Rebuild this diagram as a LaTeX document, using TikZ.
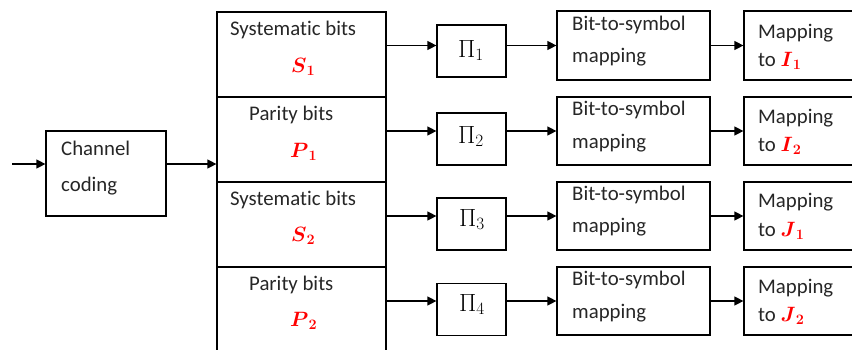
\documentclass[tikz,border=0pt]{standalone}
\usepackage{amsmath}
\usepackage[no-math]{fontspec}
\setmainfont{Carlito}[Ligatures={NoCommon}]
\usetikzlibrary{arrows.meta}
\tikzset{
  box/.style={draw=black, line width=1.2pt, inner sep=0pt},
  txt/.style={inner sep=0pt, anchor=base west, font=\fontsize{20.8}{24}\selectfont, text=black!85},
  mth/.style={inner sep=0pt, anchor=base west, font=\fontsize{20.8}{24}\selectfont, text=red},
  pitxt/.style={inner sep=0pt, anchor=base west, font=\fontsize{25}{28}\selectfont},
  conn/.style={line width=1.2pt, -{Triangle[length=9pt,width=9pt]}},
}
\newcommand{\rb}[2]{\ensuremath{\boldsymbol{#1}_{\mathbf{#2}}}}
\begin{document}
\begin{tikzpicture}[x=1pt,y=-1pt]
\useasboundingbox (0,0) rectangle (852,349);
\clip (0,0) rectangle (852,349);

% input
\coordinate (in) at (12,164);
\node[box, minimum width=120pt, minimum height=85pt] (cc) at (106,173.5) {};
\node[txt] (cct1) at (61,155) {Channel};
\node[txt] (cct2) at (61,191) {coding};

% stacked column
\node[box, minimum width=169pt, minimum height=85pt] (s1) at (301.5,54.5) {};
\node[box, minimum width=169pt, minimum height=85pt] (p1) at (301.5,139.5) {};
\node[box, minimum width=169pt, minimum height=85pt] (s2) at (301.5,224.5) {};
\node[box, minimum width=169pt, minimum height=85pt] (p2) at (301.5,309.5) {};

\node[txt] (s1t) at (230,35) {Systematic bits};
\node[mth] (s1m) at (291,72) {\rb{S}{1}};
\node[txt] (p1t) at (249,120.7) {Parity bits};
\node[mth] (p1m) at (290,157) {\rb{P}{1}};
\node[txt] (s2t) at (230,205.7) {Systematic bits};
\node[mth] (s2m) at (291,241.7) {\rb{S}{2}};
\node[txt] (p2t) at (249,290.7) {Parity bits};
\node[mth] (p2m) at (290,326.7) {\rb{P}{2}};

% interleavers
\node[box, minimum width=69pt, minimum height=52pt] (pi1) at (471.5,51) {};
\node[box, minimum width=69pt, minimum height=52pt] (pi2) at (471.5,139) {};
\node[box, minimum width=69pt, minimum height=52pt] (pi3) at (471.5,224) {};
\node[box, minimum width=69pt, minimum height=52pt] (pi4) at (471.5,309.5) {};
\node[pitxt] (pi1t) at (458,57) {$\Pi_1$};
\node[pitxt] (pi2t) at (458,143) {$\Pi_2$};
\node[pitxt] (pi3t) at (459,226) {$\Pi_3$};
\node[pitxt] (pi4t) at (459,311) {$\Pi_4$};

% bit-to-symbol
\node[box, minimum width=153pt, minimum height=69pt] (b1) at (633.5,45.5) {};
\node[box, minimum width=153pt, minimum height=68pt] (b2) at (633.5,131) {};
\node[box, minimum width=153pt, minimum height=68pt] (b3) at (633.5,216) {};
\node[box, minimum width=153pt, minimum height=68pt] (b4) at (633.5,301) {};
\node[txt] (b1t1) at (572,30.7) {Bit-to-symbol};
\node[txt] (b1t2) at (572,62.7) {mapping};
\node[txt] (b2t1) at (572,115.7) {Bit-to-symbol};
\node[txt] (b2t2) at (572,148) {mapping};
\node[txt] (b3t1) at (572,200.7) {Bit-to-symbol};
\node[txt] (b3t2) at (572,232.7) {mapping};
\node[txt] (b4t1) at (572,285.7) {Bit-to-symbol};
\node[txt] (b4t2) at (572,318) {mapping};

% mapping boxes
\node[box, minimum width=130pt, minimum height=69pt] (m1) at (809,45.5) {};
\node[box, minimum width=130pt, minimum height=68pt] (m2) at (809,131) {};
\node[box, minimum width=130pt, minimum height=68pt] (m3) at (809,216) {};
\node[box, minimum width=130pt, minimum height=68pt] (m4) at (809,301) {};
\node[txt] (m1t1) at (758,38.3) {Mapping};
\node[txt] (m1t2) at (758,66.7) {to \textcolor{red}{\rb{I}{1}}};
\node[txt] (m2t1) at (758,123.3) {Mapping};
\node[txt] (m2t2) at (758,151.7) {to \textcolor{red}{\rb{I}{2}}};
\node[txt] (m3t1) at (758,207.7) {Mapping};
\node[txt] (m3t2) at (758,236.7) {to \textcolor{red}{\rb{J}{1}}};
\node[txt] (m4t1) at (758,293.3) {Mapping};
\node[txt] (m4t2) at (758,321.7) {to \textcolor{red}{\rb{J}{2}}};

% connectors
\draw[conn] (in) -- (cc.west |- in);
\draw[conn] (cc.east |- in) -- (p1.west |- in);
\foreach \i/\a in {1/s1,2/p1,3/s2,4/p2}{
  \draw[conn] (\a.east |- b\i) -- (pi\i.west |- b\i);
  \draw[conn] (pi\i.east |- b\i) -- (b\i.west);
  \draw[conn] (b\i.east) -- (m\i.west |- b\i);
}
\end{tikzpicture}
\end{document}
